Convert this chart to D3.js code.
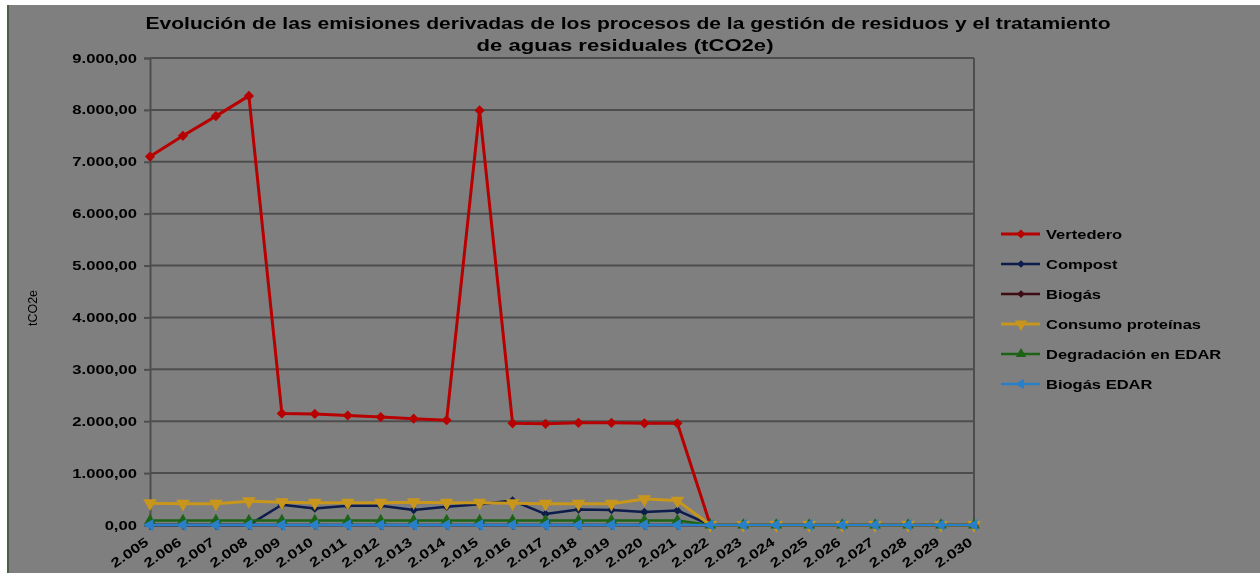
<!DOCTYPE html>
<html>
<head>
<meta charset="utf-8">
<script src="https://cdn.jsdelivr.net/npm/d3@7"></script>
<style>
  html, body { margin: 0; padding: 0; background: #ffffff; }
  svg { display: block; }
  text { font-family: "Liberation Sans", Arial, sans-serif; }
</style>
</head>
<body>
<script>
// Categories (years) and series values in tCO2e
const years = [2005, 2006, 2007, 2008, 2009, 2010, 2011, 2012, 2013, 2014, 2015, 2016, 2017,
               2018, 2019, 2020, 2021, 2022, 2023, 2024, 2025, 2026, 2027, 2028, 2029, 2030];

const vertedero   = [7100, 7500, 7880, 8270, 2150, 2140, 2110, 2080, 2050, 2020, 7990, 1960, 1950,
                     1970, 1970, 1960, 1960, 0, 0, 0, 0, 0, 0, 0, 0, 0];
const compost     = [0, 0, 0, 0, 390, 320, 370, 370, 290, 350, 400, 470, 210,
                     300, 290, 250, 280, 0, 0, 0, 0, 0, 0, 0, 0, 0];
const biogas      = [0, 0, 0, 0, 0, 0, 0, 0, 0, 0, 0, 0, 0,
                     0, 0, 0, 0, 0, 0, 0, 0, 0, 0, 0, 0, 0];
const consumo     = [420, 410, 410, 460, 440, 430, 430, 430, 440, 430, 430, 420, 410,
                     410, 410, 500, 470, 0, 0, 0, 0, 0, 0, 0, 0, 0];
const degradacion = [85, 85, 85, 85, 85, 85, 85, 85, 85, 85, 85, 85, 85,
                     85, 85, 85, 85, 0, 0, 0, 0, 0, 0, 0, 0, 0];
const biogasEdar  = [0, 0, 0, 0, 0, 0, 0, 0, 0, 0, 0, 0, 0,
                     0, 0, 0, 0, 0, 0, 0, 0, 0, 0, 0, 0, 0];

const yTicks = [0, 1000, 2000, 3000, 4000, 5000, 6000, 7000, 8000, 9000];

const titleLines = [
  "Evolución de las emisiones derivadas de los procesos de la gestión de residuos y el tratamiento",
  "de aguas residuales (tCO2e)"
];
const yTitle = "tCO2e";

const series = [
  { name: "Vertedero",            values: vertedero,   color: "#b80000", marker: "diamond", size: 52, width: 3 },
  { name: "Compost",              values: compost,     color: "#0c1c4c", marker: "diamond", size: 36, width: 2.5 },
  { name: "Biogás",               values: biogas,      color: "#3c0a14", marker: "diamond", size: 36, width: 2.5 },
  { name: "Consumo proteínas",    values: consumo,     color: "#c8961a", marker: "down",    size: 80, width: 3 },
  { name: "Degradación en EDAR",  values: degradacion, color: "#1e6414", marker: "up",      size: 60, width: 2.5 },
  { name: "Biogás EDAR",          values: biogasEdar,  color: "#2c80c8", marker: "left",    size: 60, width: 2.5 }
];

const W = 1260, H = 573;
const plot = { left: 150, right: 974, top: 58, bottom: 525 };

const esLocale = d3.formatLocale({ decimal: ",", thousands: ".", grouping: [3], currency: ["", " €"] });
const fmtY = esLocale.format(",.2f");
const fmtX = esLocale.format(",d");

const svg = d3.select("body").append("svg").attr("width", W).attr("height", H);

// soft rendering
const defs = svg.append("defs");
defs.append("filter").attr("id", "soft")
  .attr("x", "-5%").attr("y", "-5%").attr("width", "110%").attr("height", "110%")
  .append("feGaussianBlur").attr("stdDeviation", 0.7);

const root = svg.append("g").attr("filter", "url(#soft)");

// chart background and left frame edge
root.append("rect").attr("x", 7).attr("y", 5).attr("width", W - 7).attr("height", H - 5).attr("fill", "#7f7f7f");
root.append("line").attr("x1", 8).attr("x2", 8).attr("y1", 5).attr("y2", H)
  .attr("stroke", "#4b5e44").attr("stroke-width", 2);

const x = d3.scalePoint().domain(years).range([plot.left, plot.right]);
const y = d3.scaleLinear().domain([0, 9000]).range([plot.bottom, plot.top]);

function stretch(sel, k) {
  sel.each(function () {
    const w = this.getComputedTextLength();
    d3.select(this).attr("textLength", w * k).attr("lengthAdjust", "spacingAndGlyphs");
  });
}

// gridlines
root.append("g").selectAll("line").data(yTicks).join("line")
  .attr("x1", plot.left).attr("x2", plot.right)
  .attr("y1", d => y(d)).attr("y2", d => y(d))
  .attr("stroke", "#4e4e4e").attr("stroke-width", 2);

// right plot edge
root.append("line").attr("x1", plot.right).attr("x2", plot.right)
  .attr("y1", plot.top).attr("y2", plot.bottom)
  .attr("stroke", "#4e4e4e").attr("stroke-width", 2);

// y axis
const yAxis = root.append("g").attr("transform", `translate(${plot.left},0)`)
  .call(d3.axisLeft(y).tickValues(yTicks).tickFormat(fmtY).tickSize(6).tickPadding(7));
yAxis.select(".domain").attr("stroke", "#4e4e4e").attr("stroke-width", 2);
yAxis.selectAll(".tick line").attr("stroke", "#4e4e4e").attr("stroke-width", 2);
yAxis.selectAll("text").attr("fill", "#000").attr("font-size", 12.5).attr("font-weight", "bold")
  .attr("font-family", "'Liberation Sans', Arial, sans-serif");
stretch(yAxis.selectAll("text"), 1.33);

// x axis
const xAxis = root.append("g").attr("transform", `translate(0,${plot.bottom})`)
  .call(d3.axisBottom(x).tickFormat(fmtX).tickSize(5));
xAxis.select(".domain").attr("stroke", "#4e4e4e").attr("stroke-width", 2);
xAxis.selectAll(".tick line").attr("stroke", "#4e4e4e").attr("stroke-width", 2);
xAxis.selectAll("text")
  .attr("fill", "#000").attr("font-size", 13).attr("font-weight", "bold")
  .attr("font-family", "'Liberation Sans', Arial, sans-serif")
  .attr("text-anchor", "end").attr("dy", null).attr("y", 0).attr("x", 0)
  .attr("transform", "translate(-1,19) rotate(-35)");
stretch(xAxis.selectAll("text"), 1.3);

// series markers: square turned 45° for diamonds, triangles for the rest
const symbolFor = m => (m === "diamond" ? d3.symbolSquare : d3.symbolTriangle);
const rotFor = m => (m === "diamond" ? 45 : m === "down" ? 180 : m === "left" ? -90 : 0);

const line = d3.line().x((d, i) => x(years[i])).y(d => y(d));

series.forEach(s => {
  const g = root.append("g");
  g.append("path").attr("d", line(s.values))
    .attr("fill", "none").attr("stroke", s.color).attr("stroke-width", s.width)
    .attr("stroke-linejoin", "round");
  g.selectAll("path.m").data(s.values).join("path").attr("class", "m")
    .attr("d", d3.symbol().type(symbolFor(s.marker)).size(s.size))
    .attr("transform", (d, i) => `translate(${x(years[i])},${y(d)}) rotate(${rotFor(s.marker)})`)
    .attr("fill", s.color);
});

// title
const titleY = [29, 51];
const titleW = [965, 297];
const titleX = [628, 625];
titleLines.forEach((t, i) => {
  root.append("text").attr("x", titleX[i]).attr("y", titleY[i])
    .attr("text-anchor", "middle").attr("font-size", 16.5).attr("font-weight", "bold")
    .attr("fill", "#000").attr("textLength", titleW[i]).attr("lengthAdjust", "spacingAndGlyphs")
    .text(t);
});

// y axis title
root.append("text").attr("transform", "translate(37,308) rotate(-90)")
  .attr("text-anchor", "middle").attr("font-size", 12.5).attr("fill", "#000")
  .attr("textLength", 36).attr("lengthAdjust", "spacingAndGlyphs")
  .text(yTitle);

// legend
const legend = root.append("g");
const legY0 = 234, legStep = 30;
series.forEach((s, i) => {
  const ly = legY0 + i * legStep;
  legend.append("line").attr("x1", 1001).attr("x2", 1040).attr("y1", ly).attr("y2", ly)
    .attr("stroke", s.color).attr("stroke-width", s.width);
  legend.append("path")
    .attr("d", d3.symbol().type(symbolFor(s.marker)).size(s.size * 0.8))
    .attr("transform", `translate(1021,${ly}) rotate(${rotFor(s.marker)})`)
    .attr("fill", s.color);
  const t = legend.append("text").attr("x", 1046).attr("y", ly + 5)
    .attr("font-size", 13).attr("font-weight", "bold").attr("fill", "#000")
    .text(s.name);
  stretch(t, 1.27);
});
</script>
</body>
</html>
